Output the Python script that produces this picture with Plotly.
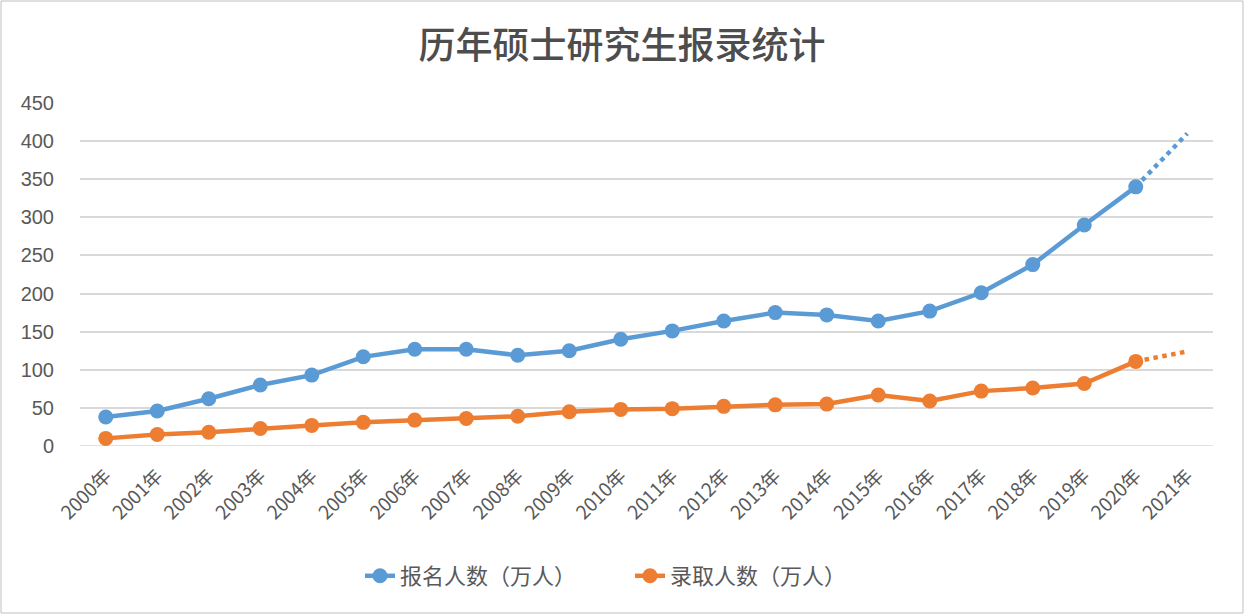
import plotly.graph_objects as go

years = [f"{y}年" for y in range(2000, 2022)]
applicants = [38, 46, 62, 80, 93, 117, 127, 127, 119, 125, 140, 151, 164, 175, 172, 164, 177, 201, 238, 290, 340]
admitted = [10, 15, 18, 23, 27, 31, 34, 36, 39, 45, 48, 49, 52, 54, 55, 67, 59, 72, 76, 82, 111]
forecast_applicants = [340, 410]
forecast_admitted = [111, 124]

blue = "#5B9BD5"
orange = "#ED7D31"
font_cjk = "Noto Sans CJK SC"

fig = go.Figure()
fig.add_trace(go.Scatter(x=years[:21], y=applicants, mode="lines+markers", name="报名人数（万人）",
                         line=dict(color=blue, width=4.5), marker=dict(size=15, color=blue)))
fig.add_trace(go.Scatter(x=years[:21], y=admitted, mode="lines+markers", name="录取人数（万人）",
                         line=dict(color=orange, width=4.5), marker=dict(size=15, color=orange)))
fig.add_trace(go.Scatter(x=years[20:22], y=forecast_applicants, mode="lines", showlegend=False,
                         line=dict(color=blue, width=4.5, dash="dot"), hoverinfo="skip"))
fig.add_trace(go.Scatter(x=years[20:22], y=forecast_admitted, mode="lines", showlegend=False,
                         line=dict(color=orange, width=4.5, dash="dot"), hoverinfo="skip"))

L, R, T, B = 80, 31, 103, 168
W, H = 1244, 614
pw = W - L - R
ph = H - T - B

fig.update_layout(
    width=W, height=H,
    margin=dict(l=L, r=R, t=T, b=B),
    paper_bgcolor="white", plot_bgcolor="white",
    title=dict(text="历年硕士研究生报录统计", x=(622 - L) / pw, xref="paper", xanchor="center",
               y=1 - 46 / H, yanchor="middle",
               font=dict(family=font_cjk, size=37, color="#4D4D4D", weight=500)),
    font=dict(family=font_cjk, color="#595959"),
    xaxis=dict(type="category", categoryorder="array", categoryarray=years, range=[-0.5, 21.5],
               tickangle=-45, tickfont=dict(size=19, color="#595959", family=font_cjk),
               showgrid=False, showline=False, ticks="", zeroline=False, ticklabelstandoff=14),
    yaxis=dict(range=[0, 450], dtick=50, tickfont=dict(size=20, color="#595959", family="Liberation Sans"),
               showgrid=True, gridcolor="#D9D9D9", gridwidth=1.5, zeroline=False, showline=False, ticks="",
               ticklabelstandoff=25),
    legend=dict(orientation="h", x=(630 - L) / pw, xanchor="center", y=-(576 - 446) / ph, yanchor="middle",
                font=dict(size=22, color="#595959", family=font_cjk), entrywidthmode="pixels", entrywidth=225),
    showlegend=True,
)

fig.add_shape(type="line", xref="paper", yref="y", x0=0, x1=1, y0=0, y1=0,
              line=dict(color="#D9D9D9", width=1.5), layer="below")
fig.add_shape(type="rect", xref="paper", yref="paper",
              x0=-(L - 1) / pw, x1=(W - 1 - L) / pw, y0=-(H - 1 - (T + ph)) / ph, y1=(T + ph - 1) / ph,
              line=dict(color="#BFBFBF", width=1), fillcolor="rgba(0,0,0,0)", layer="below")

fig.write_html("out.html", config={"displayModeBar": False},
               post_script="document.body.style.margin='0';document.body.style.overflow='hidden';")
